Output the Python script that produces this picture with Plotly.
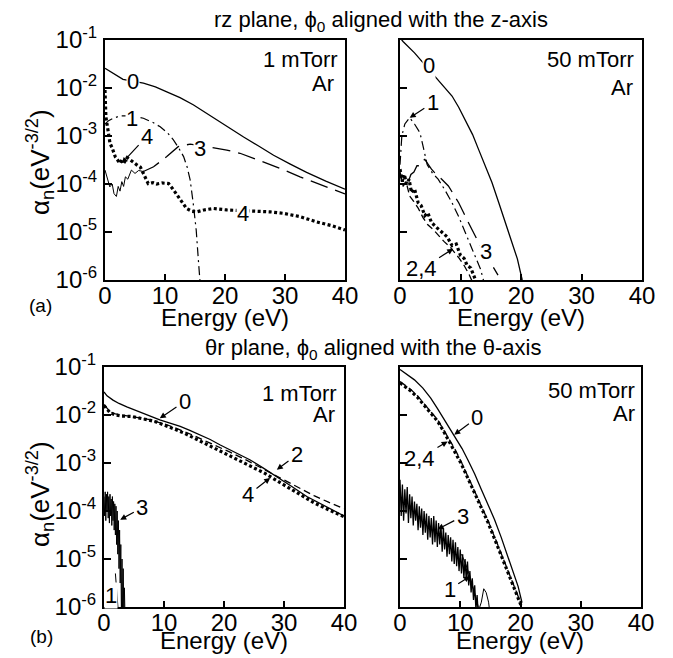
import plotly.graph_objects as go

# The page body adds an 8 px margin, so the figure is drawn 8 px in from the
# top-left corner of the 673x658 window; all layout pixel positions below are
# given in window pixels and shifted by OFF.
WIN_W, WIN_H = 673, 658
OFF = 8
W, H = WIN_W - OFF, WIN_H - OFF
FONT = "Liberation Sans, Arial, Helvetica, sans-serif"

# ---------------- axis ticks ----------------
x_ticks = [0, 10, 20, 30, 40]
x_tick_text = ["0", "10", "20", "30", "40"]
y_ticks = [1e-6, 1e-5, 1e-4, 1e-3, 1e-2, 1e-1]
y_tick_text = ["10<sup>-6</sup>", "10<sup>-5</sup>", "10<sup>-4</sup>",
               "10<sup>-3</sup>", "10<sup>-2</sup>", "10<sup>-1</sup>"]

# ---------------- (a) rz plane, 1 mTorr ----------------
a1_c0_E = [0, 1.4, 3, 6.4, 8.4, 10.3, 12.5, 14.7, 16.6, 18.6, 20.8, 23.1, 25.6, 28.1, 30.8, 33.6, 36.8, 40]
a1_c0 = [2.57e-2, 2.04e-2, 1.51e-2, 1.26e-2, 1.05e-2, 8.3e-3, 6.3e-3, 4.47e-3, 3.16e-3, 2.14e-3,
         1.41e-3, 9.5e-4, 6.2e-4, 3.98e-4, 2.63e-4, 1.74e-4, 1.15e-4, 7.8e-5]

a1_c1_E = [0, 0.6, 1.4, 2.5, 4.5, 6.4, 8.0, 9.2, 10.4, 11.4, 12.3, 13.1, 13.7, 14.2, 14.7, 15.2, 15.6, 16.0]
a1_c1 = [1.78e-3, 2.09e-3, 2.34e-3, 2.63e-3, 2.63e-3, 2.34e-3, 1.91e-3, 1.55e-3, 1.17e-3, 8.3e-4,
         5.6e-4, 3.72e-4, 2.24e-4, 1.20e-4, 3.98e-5, 1.10e-5, 2.24e-6, 5.0e-7]

a1_c3_noise_E = [0, 0.4, 0.8, 1.2, 1.5, 1.9, 2.2, 2.5, 2.8, 3.1, 3.4, 3.8, 4.4, 5.0, 5.6, 6.4]
a1_c3_noise = [1.95e-4, 1.26e-4, 8.7e-5, 1.0e-4, 6.3e-5, 5.5e-5, 8.9e-5, 7.1e-5, 1.12e-4, 8.9e-5,
               1.41e-4, 1.26e-4, 1.95e-4, 1.66e-4, 1.91e-4, 1.82e-4]
a1_c3_E = [6.4, 8.1, 10.3, 12.2, 14.2, 16.0, 18.1, 20.3, 22.5, 24.7, 26.9, 29.7, 32.5, 36.0, 40]
a1_c3 = [1.82e-4, 2.29e-4, 3.72e-4, 6.0e-4, 6.8e-4, 6.3e-4, 5.8e-4, 5.1e-4, 4.37e-4, 3.47e-4,
         2.69e-4, 2.0e-4, 1.41e-4, 9.5e-5, 6.2e-5]

a1_c4_E = [0, 0.15, 0.5, 0.83, 1.2, 1.7, 2.1, 2.5, 2.9, 3.3, 3.7, 4.2, 4.7, 5.3, 5.9, 6.4, 6.8, 7.2,
           8.0, 8.6, 9.5, 10.6, 11.3, 12.0, 12.8, 13.6, 14.5, 15.3, 16.5, 18.1, 20.3, 22.5, 25.3,
           27.5, 29.7, 32.5, 35.3, 37.8, 40]
a1_c4 = [9.1e-3, 2.51e-3, 1.32e-3, 7.1e-4, 5.6e-4, 3.72e-4, 3.16e-4, 2.69e-4, 3.31e-4, 2.95e-4,
         3.55e-4, 3.16e-4, 2.82e-4, 2.51e-4, 2.24e-4, 1.66e-4, 1.41e-4, 1.02e-4, 1.07e-4, 1.0e-4,
         1.05e-4, 1.02e-4, 7.9e-5, 5.9e-5, 4.17e-5, 3.09e-5, 2.69e-5, 2.63e-5, 2.88e-5, 3.09e-5,
         2.88e-5, 2.82e-5, 2.75e-5, 2.63e-5, 2.45e-5, 2.09e-5, 1.62e-5, 1.35e-5, 1.10e-5]

# ---------------- (a) rz plane, 50 mTorr ----------------
a50_c0_E = [0, 0.5, 2.4, 4.0, 5.8, 7.2, 8.6, 9.7, 10.8, 12.0, 13.0, 14.1, 15.2, 16.3, 17.4, 18.4, 19.4, 20.2]
a50_c0 = [1.12e-1, 9.3e-2, 5.4e-2, 3.16e-2, 1.74e-2, 1.10e-2, 6.8e-3, 3.98e-3, 2.19e-3, 1.07e-3,
          5.2e-4, 2.4e-4, 1.07e-4, 4.17e-5, 1.58e-5, 6.6e-6, 2.75e-6, 1.0e-6]

a50_c1_E = [0, 0.3, 0.8, 1.6, 2.4, 3.3, 3.8, 4.5, 5.4, 6.3, 7.4, 8.6, 9.7, 10.8, 12.0, 13.3, 14.0]
a50_c1 = [2.51e-4, 1.0e-3, 1.78e-3, 2.4e-3, 1.78e-3, 1.17e-3, 6.2e-4, 2.51e-4, 1.66e-4, 1.26e-4,
          7.6e-5, 4.07e-5, 2.09e-5, 1.0e-5, 4.17e-6, 1.70e-6, 7.9e-7]

a50_c2_E = [0, 0.5, 1.0, 1.6, 2.2, 3.0, 3.8, 4.6, 5.5, 6.4, 7.3, 8.2, 9.0, 9.8, 10.6, 11.4, 12.2]
a50_c2 = [1.58e-4, 8.9e-5, 1.12e-4, 5.6e-5, 4.47e-5, 3.16e-5, 2.0e-5, 1.41e-5, 1.12e-5, 8.3e-6,
          6.3e-6, 5.0e-6, 3.8e-6, 2.82e-6, 2.0e-6, 1.32e-6, 7.9e-7]

a50_c3_E = [0, 0.4, 0.8, 1.3, 1.8, 2.3, 2.8, 3.3, 3.7, 4.1, 4.6, 5.2, 6.0, 6.9, 8.0, 9.7, 11.3, 13.0, 14.7, 16.2]
a50_c3 = [1.78e-4, 1.12e-4, 1.41e-4, 1.05e-4, 1.58e-4, 1.78e-4, 2.4e-4, 2.4e-4, 3.02e-4, 3.24e-4,
          2.63e-4, 2.04e-4, 1.58e-4, 1.26e-4, 9.1e-5, 4.07e-5, 1.58e-5, 6.0e-6, 2.63e-6, 1.26e-6]

a50_c4_E = [0, 0.4, 0.7, 1.1, 1.5, 1.9, 2.4, 3.0, 3.5, 4.1, 4.6, 5.2, 6.0, 6.9, 7.8, 8.6, 9.3, 10.0,
            10.6, 11.1, 11.7, 12.2, 12.8]
a50_c4 = [2.04e-4, 1.12e-4, 1.58e-4, 1.0e-4, 1.26e-4, 6.6e-5, 7.9e-5, 4.07e-5, 3.55e-5, 2.19e-5,
          2.51e-5, 1.58e-5, 1.26e-5, 9.8e-6, 7.9e-6, 5.2e-6, 5.6e-6, 3.24e-6, 2.82e-6, 2.0e-6,
          1.78e-6, 1.23e-6, 7.9e-7]

# ---------------- (b) theta-r plane, 1 mTorr ----------------
b1_c0_E = [0, 0.5, 1.5, 2.5, 3.8, 5.2, 6.6, 8.0, 9.3, 11.0, 12.7, 14.3, 16.0, 17.7, 19.3, 21.8, 24.3,
           26.5, 28.8, 31.3, 33.8, 36.5, 40]
b1_c0 = [3.02e-2, 2.51e-2, 2.04e-2, 1.74e-2, 1.48e-2, 1.26e-2, 1.10e-2, 9.3e-3, 7.9e-3, 6.8e-3,
         5.8e-3, 4.79e-3, 3.89e-3, 3.09e-3, 2.4e-3, 1.70e-3, 1.17e-3, 7.9e-4, 5.2e-4, 3.24e-4,
         2.0e-4, 1.32e-4, 7.9e-5]

b1_c24_E = [0, 0.5, 1.0, 1.9, 3.0, 4.6, 6.0, 7.4, 8.8, 10.1, 11.7, 13.4, 15.0, 16.7, 18.9, 21.1,
            23.9, 26.7, 29.5, 32.2, 35.0, 37.5, 40]
b1_c2 = [1.66e-2, 1.38e-2, 1.17e-2, 1.05e-2, 1.0e-2, 9.5e-3, 8.9e-3, 8.1e-3, 7.2e-3, 6.5e-3,
         5.5e-3, 4.57e-3, 3.72e-3, 2.95e-3, 2.24e-3, 1.66e-3, 1.12e-3, 7.4e-4, 4.79e-4, 3.16e-4,
         2.09e-4, 1.51e-4, 1.12e-4]
b1_c4 = [1.58e-2, 1.32e-2, 1.12e-2, 1.0e-2, 9.5e-3, 9.3e-3, 8.7e-3, 7.9e-3, 7.1e-3, 6.2e-3,
         5.1e-3, 4.17e-3, 3.31e-3, 2.57e-3, 1.91e-3, 1.38e-3, 9.3e-4, 6.2e-4, 3.8e-4, 2.34e-4,
         1.48e-4, 1.05e-4, 7.6e-5]

b1_c3_E = [0.0, 0.1, 0.2, 0.3, 0.4, 0.5, 0.6, 0.7, 0.8, 0.9, 1.0, 1.1, 1.2, 1.3, 1.4, 1.5, 1.6, 1.7,
           1.8, 1.9, 2.0, 2.1, 2.2, 2.3, 2.4, 2.5, 2.6, 2.7, 2.8, 2.9, 3.0, 3.1, 3.2, 3.3, 3.4, 3.5]
b1_c3 = [2.0e-4, 7.9e-5, 2.51e-4, 6.3e-5, 2.24e-4, 1.0e-4, 2.51e-4, 7.1e-5, 2.0e-4, 5.6e-5,
         2.24e-4, 7.9e-5, 1.78e-4, 5.0e-5, 2.0e-4, 6.3e-5, 1.58e-4, 4.0e-5, 1.41e-4, 3.16e-5,
         1.26e-4, 2.0e-5, 1.0e-4, 1.26e-5, 6.3e-5, 6.3e-6, 4.0e-5, 3.16e-6, 2.0e-5, 6.3e-7,
         1.0e-5, 6.3e-7, 6.3e-6, 6.3e-7, 2.51e-6, 6.3e-7]

b1_c1_E = [1.9, 2.1, 2.3, 2.5]
b1_c1 = [5.0e-6, 2.51e-6, 1.26e-6, 5.0e-7]

# ---------------- (b) theta-r plane, 50 mTorr ----------------
b50_c0_E = [0, 1.2, 2.4, 3.8, 5.1, 6.2, 7.4, 8.3, 9.3, 10.3, 11.25, 12.4, 13.5, 14.6, 15.7, 16.8,
            17.9, 18.8, 19.6, 20.25]
b50_c0 = [8.9e-2, 6.9e-2, 5.4e-2, 3.63e-2, 2.24e-2, 1.38e-2, 7.9e-3, 5.1e-3, 3.31e-3, 2.0e-3,
          1.17e-3, 5.9e-4, 2.82e-4, 1.38e-4, 6.6e-5, 2.82e-5, 1.12e-5, 5.4e-6, 2.69e-6, 1.23e-6]

b50_c24_E = [0, 0.9, 1.8, 2.9, 4.0, 5.1, 6.25, 7.2, 8.2, 9.2, 10.1, 11.2, 12.4, 13.5, 14.6, 15.7,
             16.8, 17.9, 19.0, 20.1]
b50_c2 = [5.0e-2, 4.17e-2, 3.39e-2, 2.51e-2, 1.74e-2, 1.20e-2, 7.9e-3, 5.0e-3, 3.09e-3, 1.86e-3,
          1.10e-3, 5.5e-4, 2.63e-4, 1.29e-4, 6.3e-5, 2.88e-5, 1.29e-5, 5.8e-6, 2.63e-6, 1.17e-6]
b50_c4 = [4.68e-2, 3.89e-2, 3.16e-2, 2.34e-2, 1.62e-2, 1.12e-2, 7.4e-3, 4.68e-3, 2.82e-3, 1.70e-3,
          1.0e-3, 5.0e-4, 2.4e-4, 1.17e-4, 5.8e-5, 2.63e-5, 1.17e-5, 5.2e-6, 2.4e-6, 1.07e-6]

b50_c3_E = [0.0, 0.2, 0.4, 0.6, 0.8, 1.0, 1.2, 1.4, 1.6, 1.8, 2.0, 2.2, 2.4, 2.6, 2.8, 3.0, 3.2,
            3.4, 3.6, 3.8, 4.0, 4.2, 4.4, 4.6, 4.8, 5.0, 5.2, 5.4, 5.6, 5.8, 6.0, 6.2, 6.4, 6.6,
            6.8, 7.0, 7.2, 7.4, 7.6, 7.8, 8.0, 8.2, 8.4, 8.6, 8.8, 9.0, 9.2, 9.4, 9.6, 9.8, 10.0,
            10.2, 10.4, 10.6, 10.8, 11.0, 11.2, 11.4, 11.6, 11.8, 12.0, 12.2, 12.4, 12.6, 12.8, 13.0]
b50_c3 = [4.47e-4, 7.9e-5, 3.55e-4, 6.3e-5, 2.82e-4, 8.9e-5, 3.16e-4, 5.6e-5, 2.24e-4, 7.1e-5,
          2.0e-4, 5.0e-5, 1.58e-4, 6.3e-5, 1.41e-4, 3.98e-5, 1.26e-4, 4.47e-5, 1.12e-4, 3.16e-5,
          1.0e-4, 3.55e-5, 8.9e-5, 2.51e-5, 7.9e-5, 2.82e-5, 7.1e-5, 2.0e-5, 7.9e-5, 2.24e-5,
          6.3e-5, 1.78e-5, 5.6e-5, 2.0e-5, 5.0e-5, 1.41e-5, 4.47e-5, 1.58e-5, 3.55e-5, 1.12e-5,
          3.16e-5, 1.26e-5, 2.82e-5, 8.9e-6, 2.51e-5, 7.9e-6, 2.24e-5, 7.1e-6, 1.78e-5, 5.6e-6,
          1.58e-5, 5.0e-6, 1.26e-5, 3.98e-6, 1.0e-5, 3.55e-6, 8.9e-6, 2.82e-6, 5.6e-6, 2.0e-6,
          3.98e-6, 1.41e-6, 2.82e-6, 8.9e-7, 1.78e-6, 6.3e-7]

b50_c1_E = [10.2, 10.9, 11.6, 12.2, 12.7, 13.1, 13.5, 13.9, 14.3, 14.7, 15.0]
b50_c1 = [1.26e-5, 7.9e-6, 4.37e-6, 2.51e-6, 1.41e-6, 8.9e-7, 1.26e-6, 2.4e-6, 2.0e-6, 1.26e-6, 6.3e-7]

# ---------------- styles ----------------
S0 = dict(color="black", width=1.3)
S1 = dict(color="black", width=1.2, dash="9px,4px,2px,4px")
S2 = dict(color="black", width=1.3, dash="7px,4px")
S3 = dict(color="black", width=1.3, dash="18px,8px")
S4 = dict(color="black", width=3.2, dash="3px,2.5px")
SN = dict(color="black", width=1.0)
SN2 = dict(color="black", width=1.3)

fig = go.Figure()


def add(xs, ys, n, style):
    sfx = "" if n == 1 else str(n)
    fig.add_trace(go.Scatter(x=xs, y=ys, mode="lines", line=style,
                             xaxis="x" + sfx, yaxis="y" + sfx,
                             showlegend=False, hoverinfo="skip"))


# panel 1: (a) 1 mTorr
add(a1_c0_E, a1_c0, 1, S0)
add(a1_c1_E, a1_c1, 1, S1)
add(a1_c3_noise_E, a1_c3_noise, 1, SN)
add(a1_c3_E, a1_c3, 1, S3)
add(a1_c4_E, a1_c4, 1, S4)
# panel 2: (a) 50 mTorr
add(a50_c0_E, a50_c0, 2, S0)
add(a50_c1_E, a50_c1, 2, S1)
add(a50_c2_E, a50_c2, 2, S2)
add(a50_c3_E, a50_c3, 2, S3)
add(a50_c4_E, a50_c4, 2, S4)
# panel 3: (b) 1 mTorr
add(b1_c3_E, b1_c3, 3, SN)
add(b1_c1_E, b1_c1, 3, SN)
add(b1_c24_E, b1_c2, 3, S2)
add(b1_c24_E, b1_c4, 3, S4)
add(b1_c0_E, b1_c0, 3, S0)
# panel 4: (b) 50 mTorr
add(b50_c3_E, b50_c3, 4, SN2)
add(b50_c1_E, b50_c1, 4, SN)
add(b50_c24_E, b50_c2, 4, S2)
add(b50_c24_E, b50_c4, 4, S4)
add(b50_c0_E, b50_c0, 4, S0)


def fx(px):
    return (px - OFF) / W


def fy(py):
    return 1 - (py - OFF) / H


# ---------------- axes ----------------
# window-pixel boxes of the four plot areas: (left, right, top, bottom)
boxes = {1: (105, 345, 40, 280), 2: (400, 642, 40, 280),
         3: (104, 344, 367, 607), 4: (400, 641, 367, 607)}

layout_axes = {}
for n, (l, r, t, b) in boxes.items():
    sfx = "" if n == 1 else str(n)
    layout_axes["xaxis" + sfx] = dict(
        domain=[fx(l), fx(r)], anchor="y" + sfx, range=[0, 40],
        tickmode="array", tickvals=x_ticks, ticktext=x_tick_text,
        ticks="inside", ticklen=6, tickwidth=1.5, tickcolor="black",
        ticklabelstandoff=-7,
        showline=True, linecolor="black", linewidth=2, mirror=True,
        showgrid=False, zeroline=False, automargin=False, fixedrange=True,
        tickfont=dict(family=FONT, size=24, color="black"))
    layout_axes["yaxis" + sfx] = dict(
        domain=[fy(b), fy(t)], anchor="x" + sfx, type="log", range=[-6, -1],
        tickmode="array", tickvals=y_ticks, ticktext=y_tick_text,
        showticklabels=(n in (1, 3)),
        ticks="inside", ticklen=7, tickwidth=1.5, tickcolor="black",
        ticklabelstandoff=1,
        showline=True, linecolor="black", linewidth=2, mirror=True,
        showgrid=False, zeroline=False, automargin=False, fixedrange=True,
        tickfont=dict(family=FONT, size=24, color="black"))

# ---------------- annotations ----------------
ann = []


def txt(s, x, y, size=22, xanchor="center", angle=0, bg=None):
    d = dict(text=s, x=fx(x), y=fy(y), xref="paper", yref="paper",
             xanchor=xanchor, yanchor="middle", showarrow=False, textangle=angle,
             font=dict(family=FONT, size=size, color="black"), borderpad=0)
    if bg:
        d["bgcolor"] = bg
    ann.append(d)


def arrow(s, n, E, logv, ax, ay):
    sfx = "" if n == 1 else str(n)
    ann.append(dict(text=s, x=E, y=logv, xref="x" + sfx, yref="y" + sfx,
                    ax=ax, ay=ay, showarrow=True, arrowhead=2, arrowsize=1,
                    arrowwidth=1.2, arrowcolor="black", standoff=0, startstandoff=1,
                    font=dict(family=FONT, size=22, color="black")))


# titles
txt("rz plane, ϕ<sub>0</sub> aligned with the z-axis", 381, 21)
txt("θr plane, ϕ<sub>0</sub> aligned with the θ-axis", 373, 349)
# x titles
for xc, yc in [(225, 317), (521, 317), (224, 640), (520, 640)]:
    txt("Energy (eV)", xc, yc, size=24)
# y titles
ytitle = "α<sub>n</sub>(eV<sup>-3/2</sup>)"
txt(ytitle, 40, 162, size=26, angle=-90)
txt(ytitle, 40, 494, size=26, angle=-90)
# panel letters
txt("(a)", 40, 305, size=19)
txt("(b)", 41, 636, size=19)
# pressure / gas
txt("1 mTorr", 339, 59, xanchor="right")
txt("Ar", 335, 84, xanchor="right")
txt("50 mTorr", 635, 60, xanchor="right")
txt("Ar", 634, 87, xanchor="right")
txt("1 mTorr", 338, 393, xanchor="right")
txt("Ar", 336, 414, xanchor="right")
txt("50 mTorr", 636, 390, xanchor="right")
txt("Ar", 636, 413, xanchor="right")

# curve labels sitting in line gaps
txt("0", 133, 82, bg="white")
txt("1", 132, 118, bg="white")
txt("3", 200, 148, bg="white")
txt("4", 243, 213, bg="white")
txt("0", 429, 65, bg="white")
txt("3", 486, 251, bg="white")
txt("1", 111, 595, bg="white")

# curve labels with arrows (tip in data coords: energy, log10 value)
arrow("4", 1, 2.8, -3.57, 25, -27)
arrow("1", 2, 1.6, -2.62, 23, -15)
arrow("2,4", 2, 8.8, -5.35, -32, 20)
arrow("0", 3, 9.3, -2.07, 25, -17)
arrow("2", 3, 28.8, -3.14, 20, -15)
arrow("4", 3, 27.7, -3.31, -22, 17)
arrow("3", 3, 2.7, -4.18, 22, -12)
arrow("0", 4, 9.0, -2.41, 23, -17)
arrow("2,4", 4, 7.9, -2.55, -28, 17)
arrow("3", 4, 6.25, -4.38, 25, -13)
arrow("1", 4, 11.6, -5.36, -20, 13)

fig.update_layout(
    width=W, height=H, template="none",
    margin=dict(l=0, r=0, t=0, b=0),
    paper_bgcolor="white", plot_bgcolor="white",
    font=dict(family=FONT, size=22, color="black"),
    showlegend=False, hovermode=False,
    annotations=ann,
    **layout_axes)

fig.write_html("out.html")
